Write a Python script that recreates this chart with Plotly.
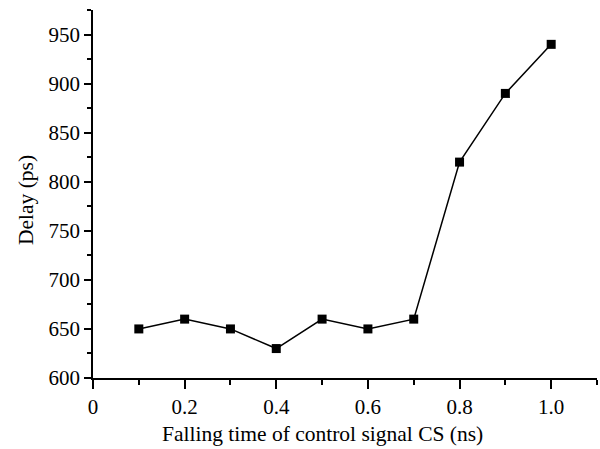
import plotly.graph_objects as go

fall_time = [0.1, 0.2, 0.3, 0.4, 0.5, 0.6, 0.7, 0.8, 0.9, 1.0]
delay_ps = [650, 660, 650, 630, 660, 650, 660, 820, 890, 940]
x_tick_vals = [0, 0.2, 0.4, 0.6, 0.8, 1.0]
x_tick_text = ["0", "0.2", "0.4", "0.6", "0.8", "1.0"]
y_tick_vals = [600, 650, 700, 750, 800, 850, 900, 950]
x_title = "Falling time of control signal CS (ns)"
y_title = "Delay (ps)"

font_family = "Liberation Serif, Times New Roman, serif"

fig = go.Figure(
    go.Scatter(
        x=fall_time, y=delay_ps, mode="lines+markers",
        line=dict(color="black", width=1.5),
        marker=dict(symbol="square", size=9, color="black"),
    )
)

axis_common = dict(
    showline=True, linecolor="black", linewidth=1.5,
    ticks="outside", tickcolor="black", tickwidth=1.5,
    showgrid=False, zeroline=False, mirror=False,
    tickfont=dict(family=font_family, size=21, color="black"),
)

fig.update_xaxes(
    **axis_common, range=[0, 1.1], tickvals=x_tick_vals, ticktext=x_tick_text,
    ticklen=9,
    minor=dict(ticks="outside", dtick=0.1, tick0=0, ticklen=5, tickcolor="black", tickwidth=1.5, showgrid=False),
)
fig.update_yaxes(
    **axis_common, range=[600, 975], tickvals=y_tick_vals,
    ticklen=7,
    minor=dict(ticks="outside", dtick=25, tick0=600, ticklen=4, tickcolor="black", tickwidth=1.5, showgrid=False),
)

fig.add_annotation(
    text=x_title, xref="paper", yref="paper",
    x=(322 - 93) / 504, y=(378 - 434) / 368,
    xanchor="center", yanchor="middle", showarrow=False,
    font=dict(family=font_family, size=21.5, color="black"),
)
fig.add_annotation(
    text=y_title, xref="paper", yref="paper",
    x=(26 - 93) / 504, y=(378 - 200) / 368,
    xanchor="center", yanchor="middle", showarrow=False, textangle=-90,
    font=dict(family=font_family, size=21.5, color="black"),
)

fig.update_layout(
    width=600, height=449,
    margin=dict(l=93, r=3, t=10, b=71),
    plot_bgcolor="white", paper_bgcolor="white",
    showlegend=False,
)

fig.write_html("out.html")
